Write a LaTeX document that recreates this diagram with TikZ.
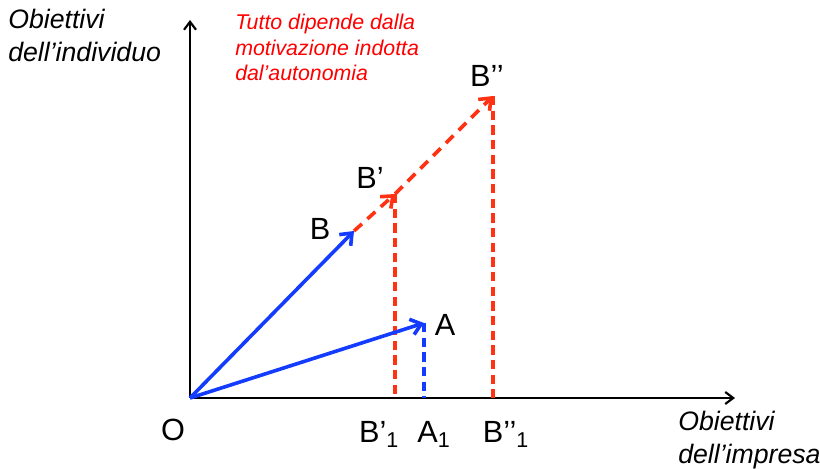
\documentclass[tikz,border=0pt]{standalone}
\usepackage{fontspec}
\setmainfont{Liberation Sans}
\usepackage{xcolor}
\usetikzlibrary{arrows.meta,positioning}
\definecolor{vecblue}{RGB}{20,60,255}
\definecolor{vecred}{RGB}{255,50,20}

\begin{document}
\begin{tikzpicture}[x=0.75pt,y=-0.75pt, axis/.style={line width=1.6pt,-{Straight Barb[length=6pt,width=9pt]}},
        vec/.style={line width=2.7pt,vecblue,-{Straight Barb[length=7.5pt,width=12pt]}},
        redvec/.style={line width=2.7pt,vecred,dash pattern=on 8pt off 5.5pt,-{Straight Barb[length=7.5pt,width=12pt]}},
        proj/.style={line width=2.7pt,dash pattern=on 7pt off 4pt},
        lbl/.style={font=\fontsize{23}{24}\selectfont,inner sep=1pt},
        axlbl/.style={font=\fontsize{20}{25}\selectfont\itshape,align=left,inner sep=0pt}]
        \useasboundingbox (0,0) rectangle (820,468);
        \coordinate (o) at (190,398);
        \coordinate (yend) at (190,20);
        \coordinate (xend) at (735,398);
        \coordinate (b) at (354,231);
        \coordinate (b1) at (395,194);
        \coordinate (b2) at (493,96);
        \coordinate (a) at (424,323);
        \coordinate (b1x) at (b1 |- o);
        \coordinate (b2x) at (b2 |- o);
        \coordinate (ax) at (a |- o);
        % axes
        \draw[axis] (o) -- (yend);
        \draw[axis] (o) -- (xend);
        % projections
        \draw[proj,vecred] (b1) -- (b1x);
        \draw[proj,vecred] (b2) -- (b2x);
        \draw[proj,vecblue] (a) -- (ax);
        % vectors
        \draw[vec] (o) -- (b);
        \draw[vec] (o) -- (a);
        \draw[redvec] (b) -- (b1);
        \draw[redvec] (b1) -- (b2);
        % labels
        \node[lbl] (lo) at (173,430) {O};
        \node[lbl] (lb) at (320,229) {B};
        \node[lbl] (lb1) at (370,178) {B’};
        \node[lbl] (lb2) at (487,76) {B’’};
        \node[lbl] (la) at (445,325) {A};
        \node[lbl] (lb1x) at (379,434) {B’\textsubscript{1}};
        \node[lbl] (lax) at (434,434) {A\textsubscript{1}};
        \node[lbl] (lb2x) at (506,434) {B’’\textsubscript{1}};
        \node[axlbl,anchor=north west] (ylbl) at (8,9) {Obiettivi\\dell’individuo};
        \node[axlbl,anchor=north west] (xlbl) at (678,411) {Obiettivi\\dell’impresa};
        \node[axlbl,anchor=north west,text=red,font=\fontsize{16}{19}\selectfont\itshape] (note) at (235,14) {Tutto dipende dalla\\motivazione indotta\\dal’autonomia};
    \end{tikzpicture}
\end{document}
